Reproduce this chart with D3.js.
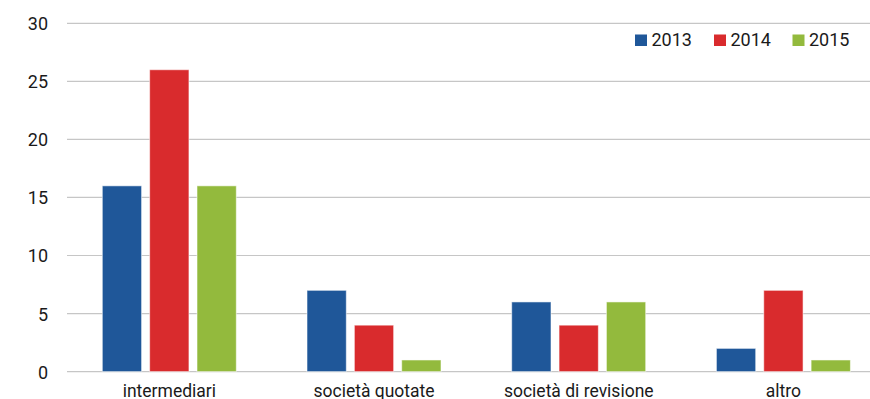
<!DOCTYPE html>
<html>
<head>
<meta charset="utf-8">
<script src="https://cdn.jsdelivr.net/npm/d3@7"></script>
<style>
  html, body { margin: 0; padding: 0; background: #fff; }
  svg { display: block; font-family: Roboto, "Liberation Sans", sans-serif; }
</style>
</head>
<body>
<svg id="chart" width="870" height="399"></svg>
<script>
// Categories and yearly counts
const categories = ["intermediari", "società quotate", "società di revisione", "altro"];
const years = ["2013", "2014", "2015"];
const values2013 = [16, 7, 6, 2];
const values2014 = [26, 4, 4, 7];
const values2015 = [16, 1, 6, 1];
const yTicks = [0, 5, 10, 15, 20, 25, 30];
const colors = ["#1f5799", "#d92b2d", "#93ba3d"];

const series = [values2013, values2014, values2015];

const svg = d3.select("#chart");
const W = 870;
const plotLeft = 67, plotTop = 23.3, plotBottom = 371.6;

const x = d3.scaleBand().domain(categories).range([plotLeft, plotLeft + 4 * 204.7]).paddingInner(0).paddingOuter(0);
const inner = d3.scaleBand().domain(years).range([35.3, 35.3 + 134]).paddingInner(0.17).paddingOuter(0);
const y = d3.scaleLinear().domain([0, 30]).range([plotBottom, plotTop]);

// Horizontal gridlines
svg.append("g").selectAll("line").data(yTicks).join("line")
  .attr("x1", plotLeft).attr("x2", W)
  .attr("y1", d => y(d)).attr("y2", d => y(d))
  .attr("stroke", "#c6c6c6").attr("stroke-width", 1.2);

// Y axis labels
const yAxis = d3.axisLeft(y).tickValues(yTicks).tickSize(0).tickPadding(0);
const ya = svg.append("g").attr("transform", "translate(48,0)").call(yAxis);
ya.select(".domain").remove();
ya.selectAll("text").attr("font-size", 18).attr("fill", "#1a1a1a")
  .attr("font-family", "Roboto, sans-serif").attr("dy", "0.36em");

// Bars
const groups = svg.append("g").selectAll("g").data(categories).join("g")
  .attr("transform", d => `translate(${x(d)},0)`);
groups.selectAll("rect")
  .data((c, i) => years.map((yr, k) => ({ yr, k, v: series[k][i] })))
  .join("rect")
  .attr("x", d => inner(d.yr))
  .attr("width", inner.bandwidth())
  .attr("y", d => y(d.v))
  .attr("height", d => y(0) - y(d.v))
  .attr("fill", d => colors[d.k])
  .attr("stroke", "rgba(255,255,255,0.55)")
  .attr("stroke-width", 1);

// Category labels
const xAxis = d3.axisBottom(x).tickSize(0).tickPadding(0);
const xa = svg.append("g").attr("transform", "translate(0,397)").call(xAxis);
xa.select(".domain").remove();
xa.selectAll("text").attr("font-size", 17.5).attr("fill", "#1a1a1a")
  .attr("font-family", "Roboto, sans-serif").attr("dy", 0);

// Legend
const legend = svg.append("g");
const lx = [635, 714, 792.5];
years.forEach((yr, k) => {
  legend.append("rect").attr("x", lx[k]).attr("y", 34.5).attr("width", 12).attr("height", 11.5).attr("fill", colors[k]);
  legend.append("text").attr("x", lx[k] + 16.5).attr("y", 46).attr("font-size", 18)
    .attr("fill", "#1a1a1a").text(yr);
});
</script>
</body>
</html>
